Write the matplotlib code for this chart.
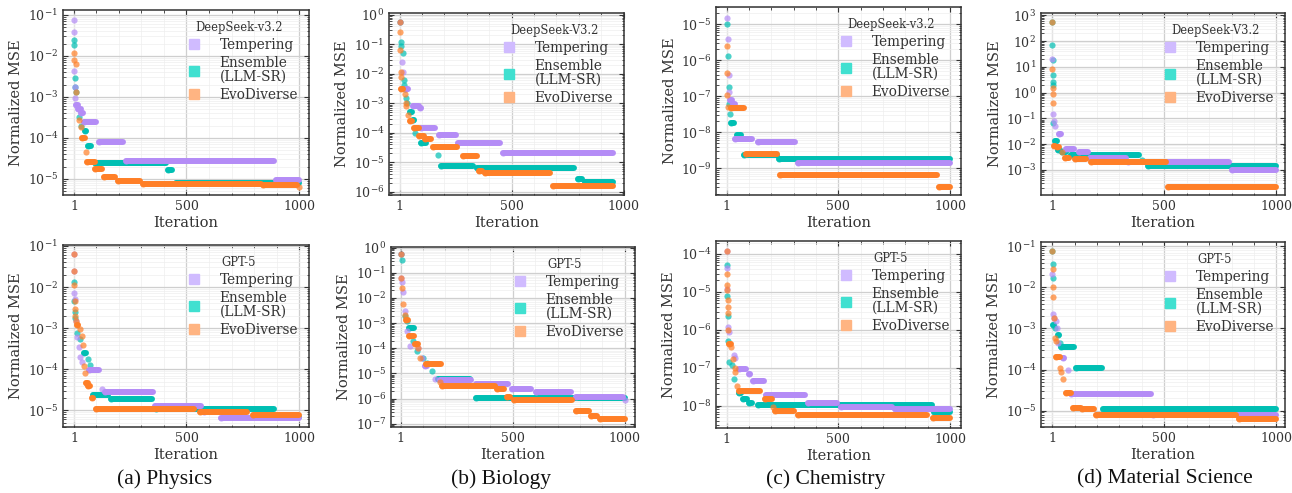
import numpy as np
import matplotlib.pyplot as plt
from matplotlib.lines import Line2D
from matplotlib.ticker import LogLocator, MultipleLocator, NullFormatter

plt.rcParams['font.family'] = 'DejaVu Serif'
plt.rcParams['mathtext.fontset'] = 'dejavuserif'

# each series: (first iteration, last iteration, normalized MSE) of a plateau
PHYS_DS_TEMP = [(1, 1, 7.5e-2), (2, 2, 3.8e-2), (3, 3, 4.2e-3), (4, 4, 1.8e-3), (6, 6, 9.5e-4),
                (8, 18, 6.5e-4), (20, 30, 5e-4), (32, 40, 4e-4), (45, 98, 2.4e-4), (111, 217, 7.8e-5),
                (233, 890, 2.7e-5), (898, 1000, 9.5e-6)]
PHYS_DS_ENS = [(1, 1, 2.4e-2), (2, 2, 1.9e-2), (5, 5, 2.9e-3), (7, 7, 1.8e-3), (10, 10, 1.3e-3),
               (25, 25, 3.3e-4), (34, 34, 2e-4), (50, 55, 1.5e-4), (62, 75, 6.5e-5), (95, 410, 2.45e-5),
               (420, 438, 1.7e-5), (455, 1000, 8.2e-6)]
PHYS_DS_EVO = [(2, 2, 1.2e-2), (3, 3, 8e-3), (8, 8, 6.5e-3), (11, 11, 1.3e-3), (25, 25, 2.8e-4),
               (34, 34, 1.9e-4), (38, 48, 1e-4), (53, 53, 4.5e-5), (60, 95, 2.6e-5), (95, 125, 1.75e-5),
               (135, 185, 1.15e-5), (197, 295, 9.1e-6), (307, 830, 7.6e-6), (840, 990, 7.1e-6),
               (1000, 1000, 6.3e-6)]

PHYS_GPT_TEMP = [(1, 1, 6.5e-2), (2, 2, 2.4e-2), (3, 3, 7e-3), (4, 4, 5e-3), (8, 8, 1.5e-3),
                 (16, 16, 6e-4), (22, 22, 3.5e-4), (28, 28, 2e-4), (35, 35, 1.5e-4), (68, 113, 9.5e-5),
                 (125, 125, 3.4e-5), (138, 350, 2.8e-5), (360, 565, 1.3e-5), (578, 640, 9e-6),
                 (655, 1000, 6.5e-6)]
PHYS_GPT_ENS = [(2, 2, 1.3e-2), (3, 3, 4.5e-3), (4, 4, 2.5e-3), (6, 6, 1.8e-3), (16, 16, 7.5e-4),
                (28, 28, 5.5e-4), (43, 55, 2.5e-4), (62, 62, 1.8e-4), (70, 70, 1.3e-4), (85, 150, 2.3e-5),
                (165, 347, 1.85e-5), (365, 890, 1.08e-5), (905, 1000, 6.9e-6)]
PHYS_GPT_EVO = [(1, 1, 6.5e-2), (2, 2, 2.4e-2), (3, 3, 1.1e-2), (4, 4, 4.7e-3), (5, 5, 3e-3),
                (7, 7, 2e-3), (10, 10, 1.5e-3), (15, 20, 1.2e-3), (28, 28, 9.5e-4), (35, 35, 6.5e-4),
                (40, 40, 4e-4), (43, 43, 1.2e-4), (50, 50, 8e-5), (55, 62, 4.7e-5), (65, 72, 4e-5),
                (80, 85, 2e-5), (100, 535, 1.05e-5), (558, 770, 9.3e-6), (795, 1000, 7.8e-6)]

BIO_DS_TEMP = [(1, 1, 0.55), (10, 10, 2.4e-2), (16, 16, 1.1e-2), (30, 40, 3e-3), (58, 85, 8.1e-4),
               (90, 95, 7e-4), (96, 160, 1.5e-4), (178, 250, 8.5e-5), (260, 450, 4.4e-5), (460, 955, 2.1e-5)]
BIO_DS_ENS = [(1, 1, 0.55), (6, 6, 0.12), (7, 7, 0.09), (15, 15, 0.05), (18, 18, 6e-3), (20, 20, 4e-3),
              (23, 23, 3e-3), (28, 28, 1.5e-3), (33, 33, 1e-3), (45, 55, 5e-4), (60, 65, 2.6e-4),
              (70, 70, 1e-4), (95, 120, 4.5e-5), (172, 172, 1.8e-5), (185, 330, 7.2e-6),
              (345, 780, 6.2e-6), (795, 815, 2.8e-6), (830, 955, 2.1e-6)]
BIO_DS_EVO = [(1, 1, 0.55), (3, 3, 0.25), (4, 4, 6.5e-2), (5, 5, 1.1e-2), (6, 6, 8e-3), (8, 14, 3e-3),
              (23, 23, 2e-3), (28, 28, 1e-3), (31, 31, 8e-4), (38, 38, 4e-4), (45, 55, 2.5e-4),
              (65, 85, 1.5e-4), (88, 110, 8e-5), (115, 140, 6e-5), (148, 256, 3.4e-5),
              (282, 345, 1.6e-5), (355, 370, 5e-6), (380, 670, 4.2e-6), (685, 955, 1.6e-6)]

BIO_GPT_TEMP = [(1, 1, 0.55), (2, 2, 6.4e-2), (5, 5, 4.5e-2), (12, 12, 1.7e-2), (20, 20, 3e-3),
                (30, 30, 5e-4), (42, 42, 1.2e-4), (80, 80, 1e-4), (95, 95, 4e-5), (110, 120, 2e-5),
                (154, 154, 6e-6), (175, 315, 5.3e-6), (335, 478, 3.9e-6), (498, 580, 2.5e-6),
                (602, 760, 1.8e-6), (780, 990, 1.15e-6), (1000, 1000, 8.5e-7)]
BIO_GPT_ENS = [(1, 1, 0.55), (5, 5, 0.33), (20, 20, 2e-3), (28, 28, 1.2e-3), (36, 60, 6.5e-4),
               (58, 58, 2e-4), (73, 73, 8e-5), (102, 102, 4e-5), (117, 117, 2.5e-5), (139, 139, 1.2e-5),
               (167, 312, 6.2e-6), (338, 1000, 1.07e-6)]
BIO_GPT_EVO = [(1, 1, 0.55), (2, 2, 6e-2), (5, 5, 2.5e-2), (13, 13, 6e-3), (20, 20, 2.2e-3),
               (25, 35, 1.3e-3), (40, 62, 3e-4), (65, 78, 1.5e-4), (80, 80, 1e-4), (88, 88, 4e-5),
               (115, 180, 2.3e-5), (175, 175, 4.5e-6), (185, 420, 3.3e-6), (430, 460, 2.5e-6),
               (475, 490, 1.2e-6), (505, 765, 8.9e-7), (780, 840, 3.2e-7), (850, 875, 2e-7),
               (890, 1000, 1.6e-7)]

CHEM_DS_TEMP = [(1, 1, 1.53e-5), (7, 7, 3.9e-6), (10, 10, 4e-7), (12, 12, 1.3e-7), (16, 24, 7.7e-8),
                (28, 38, 6e-8), (36, 115, 6.6e-9), (140, 308, 5.5e-9), (318, 1000, 1.45e-9)]
CHEM_DS_ENS = [(4, 4, 1e-5), (8, 8, 1.3e-6), (9, 9, 1.8e-7), (13, 13, 6e-8), (16, 16, 3.2e-8),
               (20, 34, 1.8e-8), (47, 63, 8.7e-9), (80, 225, 2.3e-9), (237, 1000, 1.8e-9)]
CHEM_DS_EVO = [(1, 1, 2.5e-6), (4, 4, 4.5e-7), (4, 4, 1.1e-7), (8, 8, 5e-8), (20, 78, 4.6e-8),
               (88, 227, 2.5e-9), (240, 943, 6.4e-10), (952, 1000, 3e-10)]

CHEM_GPT_TEMP = [(1, 1, 1.2e-4), (2, 2, 4.2e-5), (3, 3, 1.2e-5), (8, 8, 1.2e-6), (13, 13, 9e-7),
                 (35, 35, 2.2e-7), (38, 38, 1.8e-7), (58, 86, 9.1e-8), (100, 104, 7e-8), (118, 167, 4.6e-8),
                 (178, 353, 1.9e-8), (364, 495, 1.15e-8), (512, 740, 9.1e-9), (755, 1000, 8.4e-9)]
CHEM_GPT_ENS = [(1, 1, 5e-5), (4, 4, 8e-6), (7, 7, 2.3e-6), (8, 8, 5e-7), (13, 13, 1.4e-7),
                (23, 23, 1.2e-7), (34, 34, 5e-8), (58, 63, 2.2e-8), (75, 92, 1.5e-8), (100, 115, 1.2e-8),
                (140, 920, 1.02e-8), (930, 1000, 6.6e-9)]
CHEM_GPT_EVO = [(1, 1, 1.2e-4), (2, 2, 3e-5), (3, 3, 1.5e-5), (4, 4, 1.1e-5), (5, 5, 6e-6),
                (5, 5, 4e-6), (6, 6, 2.7e-6), (8, 8, 1e-6), (12, 18, 4.2e-7), (21, 21, 3.5e-7),
                (31, 31, 1.7e-7), (38, 38, 1e-7), (38, 38, 7.5e-8), (46, 46, 3.2e-8), (58, 152, 2.4e-8),
                (170, 205, 1.5e-8), (209, 209, 9e-9), (215, 300, 7.1e-9), (318, 898, 5.8e-9),
                (922, 1000, 4.6e-9)]

MAT_DS_TEMP = [(1, 1, 21.0), (5, 5, 0.15), (10, 10, 0.08), (13, 13, 0.05), (30, 38, 0.025),
               (62, 98, 6.5e-3), (120, 160, 5e-3), (170, 330, 2.8e-3), (340, 788, 2.1e-3), (800, 1000, 1e-3)]
MAT_DS_ENS = [(1, 1, 550.0), (1, 1, 69.0), (2, 2, 18.0), (2, 2, 5.0), (3, 3, 2.5), (3, 3, 2.0),
              (5, 5, 0.068), (12, 20, 0.0138), (27, 35, 6e-3), (45, 60, 5e-3), (85, 388, 3.8e-3),
              (400, 400, 2.5e-3), (428, 1000, 1.48e-3)]
MAT_DS_EVO = [(1, 1, 550.0), (1, 1, 8.6), (2, 2, 1.45), (3, 3, 0.9), (4, 4, 0.4), (7, 12, 8.7e-3),
              (20, 30, 8e-3), (43, 43, 5e-3), (55, 75, 2.8e-3), (100, 150, 2.6e-3), (175, 507, 2e-3),
              (517, 1000, 2.15e-4)]

MAT_GPT_TEMP = [(1, 1, 2.1e-2), (5, 5, 2.2e-3), (7, 7, 1.8e-3), (15, 15, 1.5e-3), (20, 20, 1e-3),
                (24, 24, 4.5e-4), (47, 53, 1.9e-4), (72, 72, 1e-4), (85, 440, 2.5e-5), (450, 1000, 7.7e-6)]
MAT_GPT_ENS = [(1, 1, 7.5e-2), (2, 2, 3.7e-2), (4, 4, 1.7e-2), (5, 6, 1.2e-3), (12, 12, 1e-3),
               (25, 30, 6.9e-4), (35, 35, 4.5e-4), (40, 97, 3.5e-4), (108, 224, 1.1e-4), (227, 1000, 1.07e-5)]
MAT_GPT_EVO = [(1, 1, 7.5e-2), (2, 2, 2.8e-2), (3, 3, 1e-2), (5, 5, 6e-3), (9, 9, 1.8e-3),
               (12, 12, 6e-4), (15, 15, 5e-4), (16, 35, 2e-4), (35, 35, 1.1e-4), (40, 40, 8.5e-5),
               (50, 50, 6e-5), (62, 83, 2.7e-5), (92, 128, 1.15e-5), (132, 187, 1.1e-5),
               (196, 820, 7.6e-6), (835, 1000, 6.3e-6)]

LABELS = ['Tempering', 'Ensemble\n(LLM-SR)', 'EvoDiverse']
COLORS = ['#b48cf6', '#00bfb3', '#ff7f27']
LEG_COLORS = ['#d0bbff', '#40e0d0', '#ffb482']
CAPTIONS = ['(a) Physics', '(b) Biology', '(c) Chemistry', '(d) Material Science']

# panel boxes in pixels: left, top, right, bottom ; y-limits as log10 ; x-limits
PANELS = [
    ((63, 10, 309, 195), (-5.39, -0.878), (-48, 1044), 'DeepSeek-v3.2', PHYS_DS_TEMP, PHYS_DS_ENS, PHYS_DS_EVO),
    ((63, 245, 309, 427), (-5.405, -0.976), (-48, 1044), 'GPT-5', PHYS_GPT_TEMP, PHYS_GPT_ENS, PHYS_GPT_EVO),
    ((389, 13, 624, 195), (-6.11, 0.057), (-47, 1002), 'DeepSeek-V3.2', BIO_DS_TEMP, BIO_DS_ENS, BIO_DS_EVO),
    ((391, 247, 635, 427), (-7.13, 0.027), (-42, 1045), 'GPT-5', BIO_GPT_TEMP, BIO_GPT_ENS, BIO_GPT_EVO),
    ((716, 7, 961, 195), (-9.74, -4.52), (-47, 1049), 'DeepSeek-v3.2', CHEM_DS_TEMP, CHEM_DS_ENS, CHEM_DS_EVO),
    ((716, 241, 961, 428), (-8.59, -3.658), (-47, 1049), 'GPT-5', CHEM_GPT_TEMP, CHEM_GPT_ENS, CHEM_GPT_EVO),
    ((1041, 13, 1285, 195), (-3.97, 3.09), (-50, 1038), 'DeepSeek-V3.2', MAT_DS_TEMP, MAT_DS_ENS, MAT_DS_EVO),
    ((1041, 242, 1285, 427), (-5.40, -0.894), (-50, 1038), 'GPT-5', MAT_GPT_TEMP, MAT_GPT_ENS, MAT_GPT_EVO),
]
CAPTION_X = [165, 501, 826, 1165]

W, H = 1292, 493
fig = plt.figure(figsize=(W / 100, H / 100), dpi=100)


def draw_series(ax, segs, color, z):
    s = np.array(segs, dtype=float)
    ax.scatter(s[:, 0], s[:, 2], s=20, color=color, alpha=0.7, lw=0, zorder=z)
    runs = s[s[:, 1] > s[:, 0]]
    ax.hlines(runs[:, 2], runs[:, 0], runs[:, 1], colors=color, lw=4.3,
              capstyle='round', zorder=z)


for box, ylog, xlim, model, temp, ens, evo in PANELS:
    l, t, r, b = box
    ax = fig.add_axes([l / W, 1 - b / H, (r - l) / W, (b - t) / H])
    ax.set_yscale('log')

    # ensemble underneath, evodiverse on top
    draw_series(ax, ens, COLORS[1], 3)
    draw_series(ax, temp, COLORS[0], 4)
    draw_series(ax, evo, COLORS[2], 5)

    ax.set_xlim(*xlim)
    ax.set_ylim(10 ** ylog[0], 10 ** ylog[1])
    ax.set_xticks([1, 500, 1000])
    ax.xaxis.set_minor_locator(MultipleLocator(100))
    ax.yaxis.set_major_locator(LogLocator(base=10, numticks=20))
    ax.yaxis.set_minor_locator(LogLocator(base=10, subs=np.arange(2, 10), numticks=200))
    ax.yaxis.set_minor_formatter(NullFormatter())

    ax.grid(which='major', color='#cfcfcf', lw=0.9, zorder=0)
    ax.grid(which='minor', color='#eeeeee', lw=0.5, zorder=0)
    ax.set_axisbelow(True)
    ax.tick_params(which='both', direction='in', top=True, right=True, labelsize=9, colors='#333333')
    ax.tick_params(which='major', length=3.5, width=0.8)
    ax.tick_params(which='minor', length=1.8, width=0.6)
    for sp in ax.spines.values():
        sp.set_linewidth(1.1)
        sp.set_color('#333333')

    ax.set_xlabel('Iteration', fontsize=10.5, color='#333333', labelpad=2)
    ax.set_ylabel('Normalized MSE', fontsize=10.5, color='#333333', labelpad=3)

    handles = [Line2D([], [], ls='none', marker='s', markersize=7.5, color=c) for c in LEG_COLORS]
    leg = ax.legend(handles, LABELS, title=model, loc='upper right', frameon=False,
                    fontsize=9.8, title_fontsize=8.3, labelspacing=0.3,
                    borderaxespad=0.4, handletextpad=0.9)
    for txt in leg.get_texts():
        txt.set_color('#333333')
        txt.set_linespacing(0.95)
    leg.get_title().set_color('#333333')

for x, cap in zip(CAPTION_X, CAPTIONS):
    fig.text(x / W, 1 - 479 / H, cap, ha='center', va='center', fontsize=15.5,
             family='Liberation Serif', color='#111111')

fig.savefig('out.png', dpi=100)
